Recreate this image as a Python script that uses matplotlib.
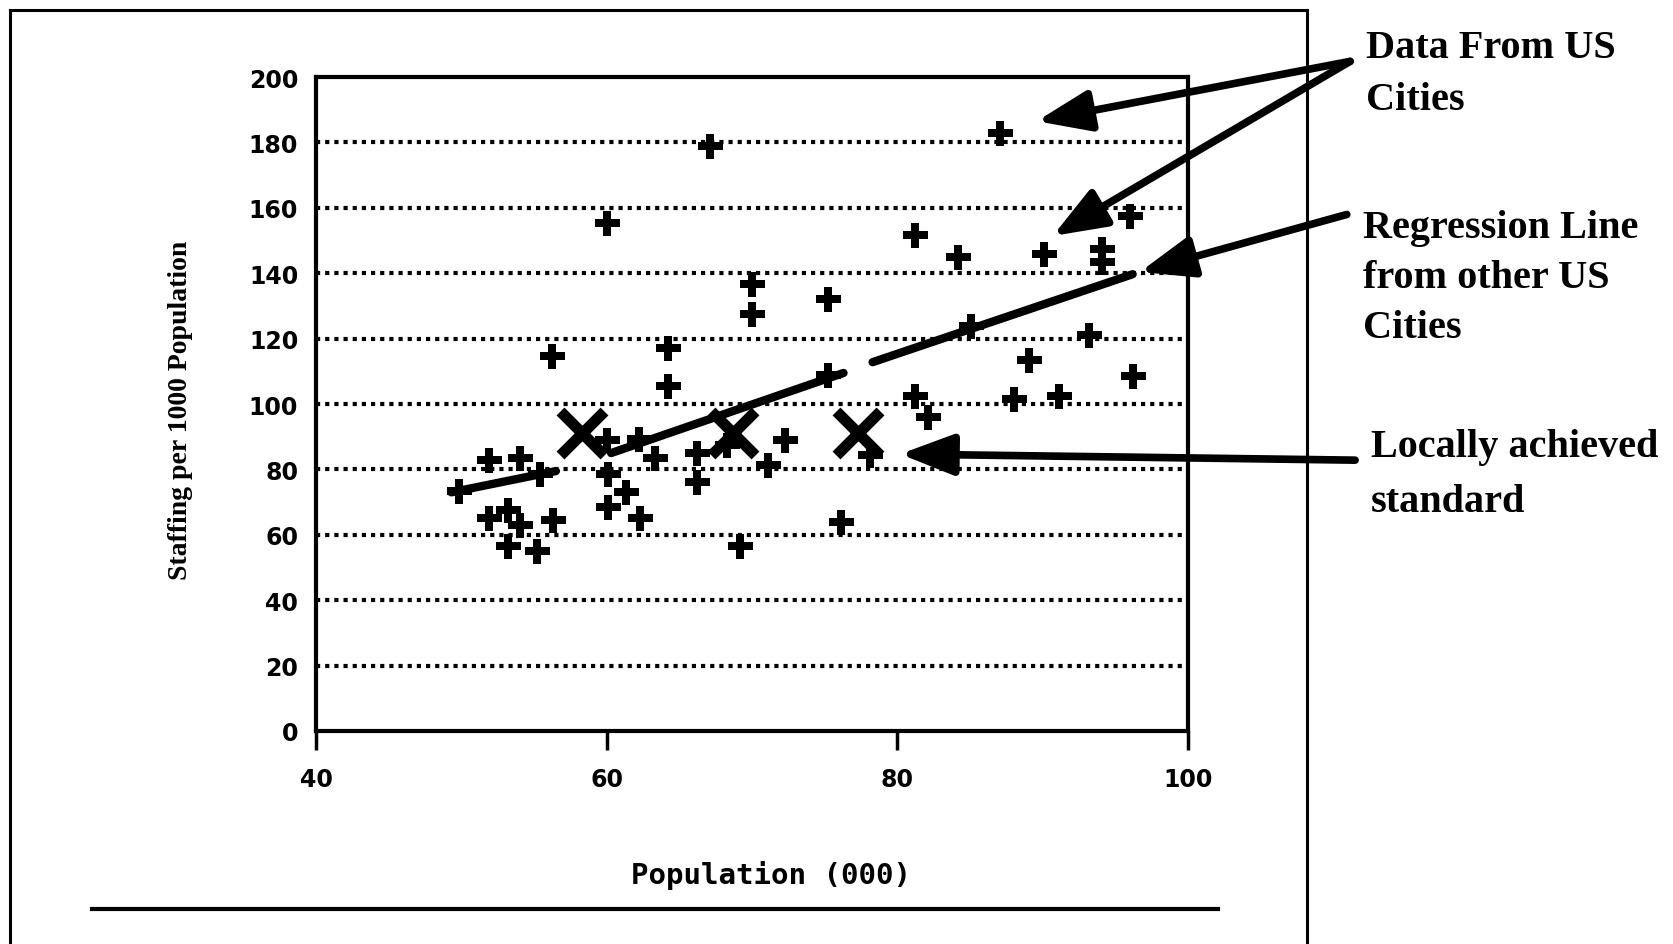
import matplotlib
matplotlib.use("Agg")
import matplotlib.pyplot as plt
from matplotlib.lines import Line2D

# =====================================
# DATA
# =====================================

# US cities (crosses)
city_x = [67.1, 87.1, 60.0, 81.2, 84.2, 90.1, 94.1, 94.1, 96.0,
          70.0, 70.0, 75.2, 56.2, 64.2, 64.2, 75.2, 85.1, 93.2,
          89.1, 96.2, 81.2, 88.0, 91.1, 82.1, 72.3, 71.1, 66.2,
          66.2, 62.2, 63.3, 60.1, 61.3, 60.1, 62.3, 56.3, 51.9,
          54.0, 55.4, 49.8, 51.9, 53.2, 54.0, 53.2, 55.2, 69.2,
          76.1, 78.1, 60.0, 68.3]
city_y = [179.0, 183.0, 155.5, 151.6, 145.0, 145.8, 147.5, 143.5, 157.6,
          136.7, 127.6, 132.2, 114.8, 117.0, 105.5, 109.0, 124.0, 121.0,
          113.4, 108.5, 102.5, 101.5, 102.5, 96.0, 89.0, 81.5, 85.0,
          76.0, 89.4, 83.5, 78.5, 73.0, 68.6, 65.1, 64.6, 83.0,
          83.5, 78.5, 73.5, 65.1, 67.6, 63.1, 56.6, 55.1, 56.6,
          63.8, 84.5, 89.0, 87.5]

# locally achieved standard (big X)
local_x = [58.3, 68.7, 77.3]
local_y = [91.0, 91.0, 91.0]

# regression line, drawn in broken pieces
reg_x = [[49.3, 56.5], [60.3, 76.3], [78.3, 96.2]]
reg_y = [[73.0, 79.5], [85.0, 109.5], [112.8, 139.7]]

x_ticks = [40, 60, 80, 100]
y_ticks = [0, 20, 40, 60, 80, 100, 120, 140, 160, 180, 200]
grid_y = [20, 40, 60, 80, 100, 120, 140, 160, 180]

# annotations
text_data = ["Data From US", "Cities"]
text_reg = ["Regression Line", "from other US", "Cities"]
text_local = ["Locally achieved", "standard"]

tip_data = [(89.6, 186.5), (90.7, 151.4)]
tip_reg = (96.7, 140.4)
tip_local = (80.2, 84.7)

# =====================================
# FIGURE
# =====================================

fig = plt.figure(figsize=(16.73, 9.45), dpi=100)
fig.patch.set_facecolor("white")

ax = fig.add_axes([0.189, 0.2254, 0.521, 0.692])

for gy in grid_y:
    ax.axhline(gy, color="black", lw=3, linestyle=(0, (1, 1.2)), zorder=1)

for sx, sy in zip(reg_x, reg_y):
    ax.plot(sx, sy, color="black", lw=6, solid_capstyle="round", zorder=3)

ax.plot(city_x, city_y, linestyle="none", marker="P", markersize=18,
        color="black", markeredgewidth=0, zorder=4)

ax.plot(local_x, local_y, linestyle="none", marker="x", markersize=32,
        color="black", markeredgewidth=8, zorder=5)

ax.set_xlim(40, 100)
ax.set_ylim(0, 200)
ax.set_xticks(x_ticks)
ax.set_yticks(y_ticks)

tick_font = {"family": "DejaVu Sans", "weight": "heavy", "size": 17}
ax.set_xticklabels([str(t) for t in x_ticks], fontdict=tick_font)
ax.set_yticklabels([str(t) for t in y_ticks], fontdict=tick_font)

ax.tick_params(axis="x", direction="out", length=14, width=2.5, pad=12)
ax.tick_params(axis="y", length=0, pad=13)

for s in ax.spines.values():
    s.set_linewidth(3)
    s.set_color("black")

# axis titles
fig.text(0.461, 0.074, "Population (000)", ha="center", va="center",
         family="DejaVu Sans Mono", weight="bold", fontsize=21)
fig.text(0.108, 0.566, "Staffing per 1000 Population", ha="center",
         va="center", rotation=90, family="Liberation Serif",
         weight="bold", fontsize=20)

# =====================================
# FRAME
# =====================================

frame_kw = dict(color="black", lw=2.2, transform=fig.transFigure)
fig.add_artist(Line2D([0.006, 0.006], [0.0, 0.988], **frame_kw))
fig.add_artist(Line2D([0.006, 0.781], [0.988, 0.988], **frame_kw))
fig.add_artist(Line2D([0.781, 0.781], [0.0, 0.988], **frame_kw))
fig.add_artist(Line2D([0.055, 0.728], [0.037, 0.037], color="black",
                      lw=3, transform=fig.transFigure))

# =====================================
# ANNOTATIONS
# =====================================

arrow = dict(arrowstyle="-|>,head_length=1.3,head_width=0.5",
             mutation_scale=25, lw=5.5, color="black",
             shrinkA=0, shrinkB=0)

for tip in tip_data:
    ax.annotate("", xy=tip, xycoords="data",
                xytext=(0.807, 0.934), textcoords="figure fraction",
                arrowprops=arrow, annotation_clip=False)

ax.annotate("", xy=tip_reg, xycoords="data",
            xytext=(0.805, 0.772), textcoords="figure fraction",
            arrowprops=arrow, annotation_clip=False)

ax.annotate("", xy=tip_local, xycoords="data",
            xytext=(0.810, 0.512), textcoords="figure fraction",
            arrowprops=arrow, annotation_clip=False)

serif = dict(family="Liberation Serif", fontsize=29, weight="bold",
             va="center", ha="left")

for i, line in enumerate(text_data):
    fig.text(1366 / 1673, 1 - (48 + 53 * i) / 945, line, **serif)

for i, line in enumerate(text_reg):
    fig.text(1363 / 1673, 1 - (229 + 50 * i) / 945, line, **serif)

for i, line in enumerate(text_local):
    fig.text(1371 / 1673, 1 - (448 + 54 * i) / 945, line, **serif)

fig.savefig("out.png", dpi=100, facecolor="white")
